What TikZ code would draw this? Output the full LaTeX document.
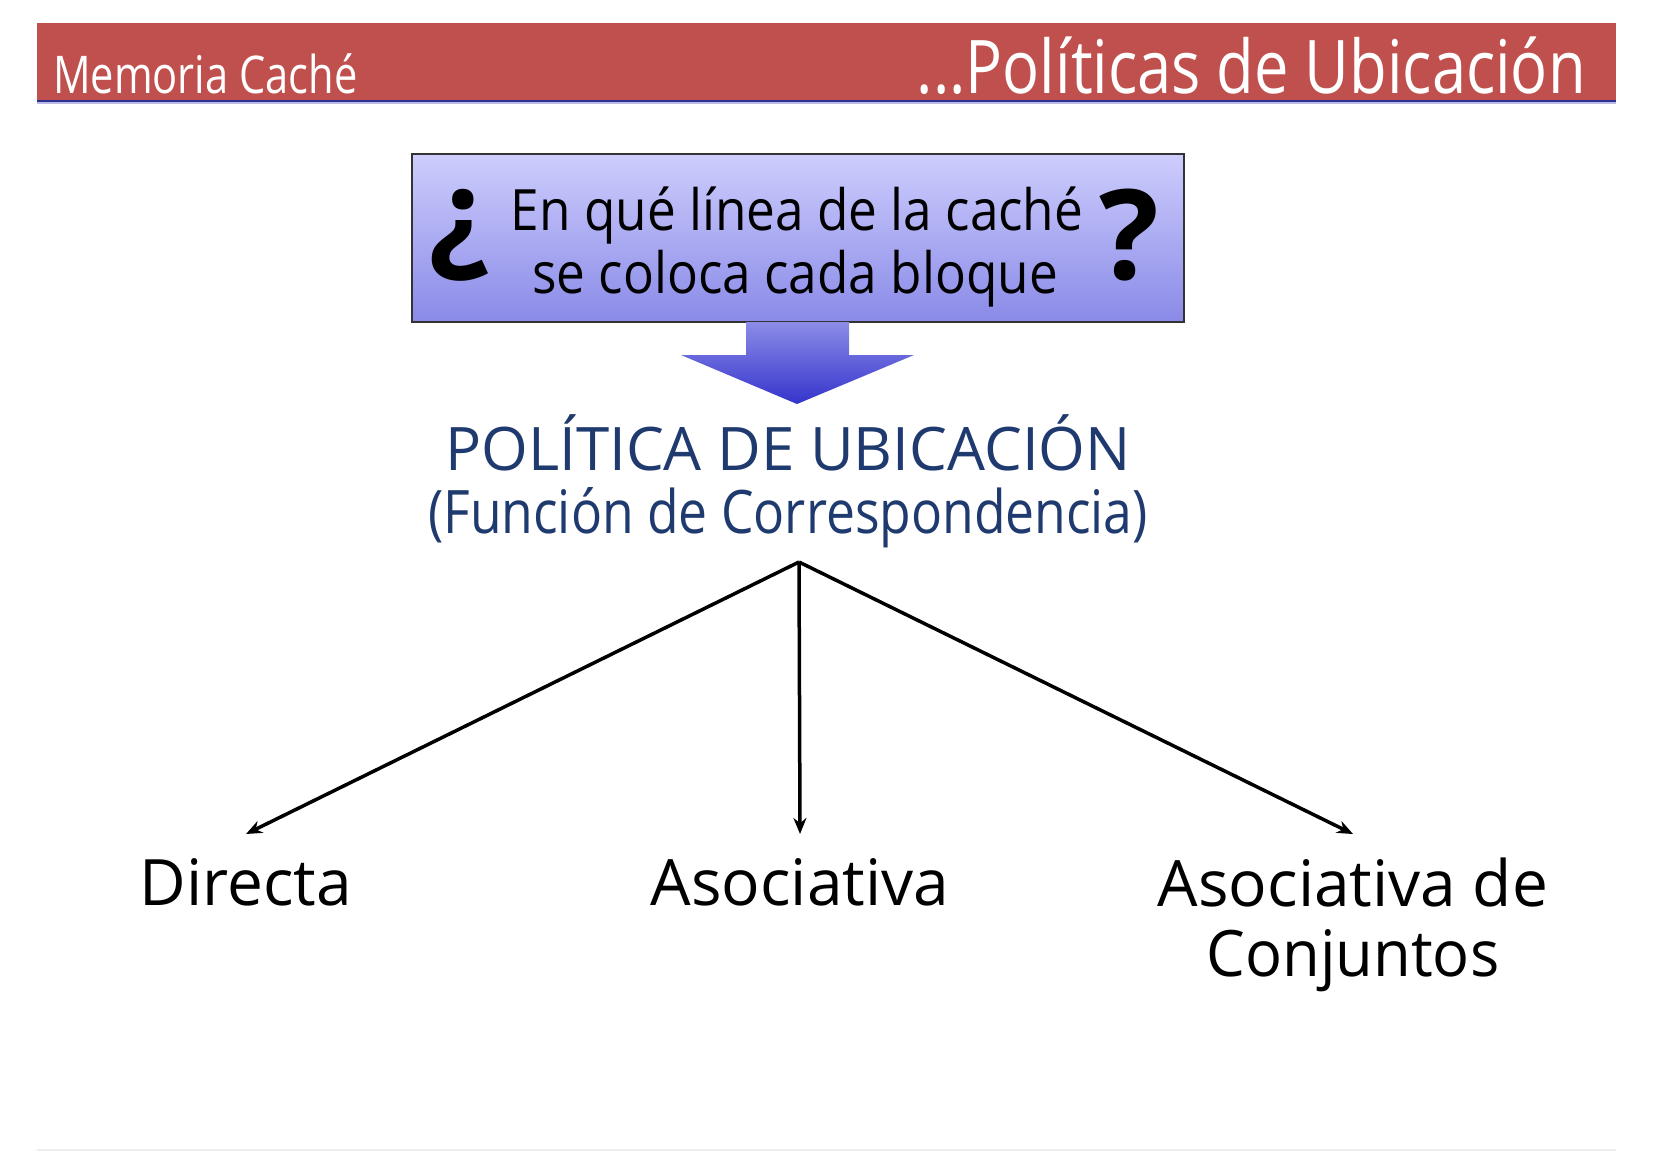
\documentclass[tikz,border=0pt]{standalone}
\usepackage{fontspec}
\setmainfont{Open Sans}
\usetikzlibrary{arrows.meta}
\definecolor{hdrred}{HTML}{C0504D}
\definecolor{hdrline}{HTML}{2E3192}
\definecolor{hdrshade}{HTML}{B9BBE6}
\definecolor{navytxt}{HTML}{1F3A6E}
\definecolor{boxtop}{HTML}{CDCDFD}
\definecolor{boxbot}{HTML}{8A8AE8}
\definecolor{arrtop}{HTML}{8C8CE8}
\definecolor{arrbot}{HTML}{3434CC}
\tikzset{
  hdrtxt/.style={inner sep=0pt, text=white},
  boxtxt/.style={inner sep=0pt, anchor=base, font=\fontsize{57}{57}\selectfont},
  qmark/.style={inner sep=0pt, font=\bfseries\fontsize{125}{125}\selectfont},
  poltxt/.style={inner sep=0pt, anchor=base, text=navytxt, font=\fontsize{60}{60}\selectfont},
  leaf/.style={anchor=north, inner xsep=0pt, inner ysep=24pt, align=center, font=\fontsize{64}{70}\selectfont},
  conn/.style={line width=3.5pt, -{Stealth[length=16pt,width=13pt]}}
}
\begin{document}
\begin{tikzpicture}[x=1pt,y=-1pt]
\useasboundingbox (0,0) rectangle (1654,1152);
\fill[white] (0,0) rectangle (1654,1152);
% header
\node (hdr) [fill=hdrred, minimum width=1579pt, minimum height=78pt, inner sep=0pt, anchor=north west] at (37,23) {};
\draw[hdrline, line width=2pt] (hdr.south west) -- (hdr.south east);
\draw[hdrshade, line width=2pt] ([yshift=-2pt]hdr.south west) -- ([yshift=-2pt]hdr.south east);
\node (hl) [hdrtxt, anchor=base west, font=\fontsize{52}{52}\selectfont] at (53,93) {\scalebox{0.8}[1]{Memoria Caché}};
\node (hr) [hdrtxt, anchor=base east, font=\fontsize{74}{74}\selectfont] at (1586,93) {\scalebox{0.83}[1]{...Políticas de Ubicación}};
% question box
\node (qbox) [draw=black!80, line width=1.5pt, top color=boxtop, bottom color=boxbot, minimum width=772pt, minimum height=168pt, inner sep=0pt, anchor=north west] at (411,153) {};
\shade[top color=arrtop, bottom color=arrbot] (746,322) -- (746,355) -- (681,355) -- (797,404) -- (914,355) -- (849,355) -- (849,322) -- cycle;
\node (q1) [boxtxt] at (797,230) {\scalebox{0.9}[1]{En qué línea de la caché}};
\node (q2) [boxtxt] at (795,293) {\scalebox{0.9}[1]{se coloca cada bloque}};
\node (qo) [qmark] at (458,235) {¿};
\node (qc) [qmark] at (1129,235) {?};
% policy title
\node (p1) [poltxt] at (788,470) {POLÍTICA DE UBICACIÓN};
\node (p2) [poltxt] at (788,533) {\scalebox{0.86}[1]{(Función de Correspondencia)}};
\coordinate (apex) at (799,562);
% leaves
\node (dir) [leaf] at (246,834) {Directa};
\node (aso) [leaf] at (800,834) {Asociativa};
\node (con) [leaf] at (1353,834) {Asociativa de\\\scalebox{0.96}[1]{Conjuntos}};
\draw[conn] (apex) -- (dir.north);
\draw[conn] (apex) -- (aso.north);
\draw[conn] (apex) -- (con.north);
% bottom rule
\draw[black!7, line width=1.5pt] (37,1150) -- (1616,1150);
\end{tikzpicture}
\end{document}
